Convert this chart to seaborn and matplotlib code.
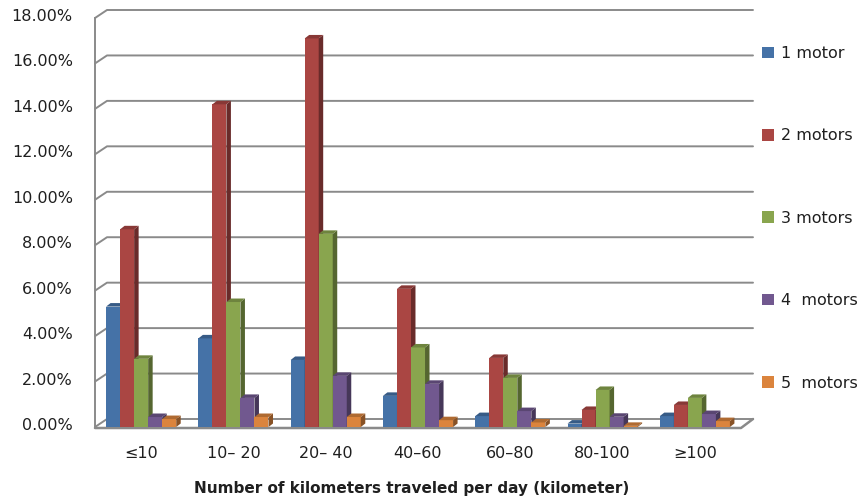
import numpy as np
import pandas as pd
import matplotlib
matplotlib.use("Agg")
import matplotlib.pyplot as plt
import seaborn as sns
from matplotlib import transforms as mtransforms
from matplotlib.patches import Polygon, Patch
from matplotlib.lines import Line2D
from matplotlib.colors import to_rgb

# ---- data (share of respondents, %) ----
categories = ["≤10", "10– 20", "20– 40", "40–60", "60–80", "80-100", "≥100"]
series = ["1 motor", "2 motors", "3 motors", "4  motors", "5  motors"]
motor1 = [5.30, 3.90, 2.95, 1.37, 0.48, 0.15, 0.48]
motor2 = [8.70, 14.20, 17.10, 6.08, 3.04, 0.75, 0.97]
motor3 = [3.00, 5.50, 8.50, 3.50, 2.16, 1.63, 1.28]
motor4 = [0.44, 1.28, 2.25, 1.90, 0.70, 0.45, 0.57]
motor5 = [0.35, 0.44, 0.44, 0.30, 0.20, 0.05, 0.26]
y_ticks = [0, 2, 4, 6, 8, 10, 12, 14, 16, 18]
x_title = "Number of kilometers traveled per day (kilometer)"

colors = ["#4572A7", "#AA4643", "#89A54E", "#71588F", "#DB843D"]

rows = []
for name, vals in zip(series, [motor1, motor2, motor3, motor4, motor5]):
    for cat, v in zip(categories, vals):
        rows.append({"range": cat, "motors": name, "share": v})
df = pd.DataFrame(rows)

sns.set_theme(style="white")
plt.rcParams["font.family"] = ["DejaVu Sans"]

W, H = 864, 501
fig = plt.figure(figsize=(W / 100, H / 100), dpi=100)
fig.patch.set_facecolor("white")
ax_left, ax_right, ax_bottom, ax_top = 95, 741, 427, 18
ax = fig.add_axes([ax_left / W, (H - ax_bottom) / H,
                   (ax_right - ax_left) / W, (ax_bottom - ax_top) / H])
ax.set_facecolor("none")

sns.barplot(data=df, x="range", y="share", hue="motors", order=categories,
            hue_order=series, palette=colors, width=0.76, saturation=1,
            legend=False, linewidth=0, edgecolor="none", ax=ax)
ax.set_xlim(-0.5, len(categories) - 0.5)
ax.set_ylim(0, 18)

grid_col = "#8a8a8a"
ident = mtransforms.IdentityTransform()
DX, DY = 12, 8          # wall depth in pixels
BX, BY = 4.5, 3.5       # bar depth in pixels


def darker(c, f):
    r, g, b = to_rgb(c)
    return (r * f, g * f, b * f)


# back wall gridlines with the short diagonal from the front axis
x0_disp = ax.transAxes.transform((0, 0))[0]
x1_disp = ax.transAxes.transform((1, 0))[0]
for t in y_ticks:
    yd = ax.transData.transform((0, t))[1]
    ln = Line2D([x0_disp, x0_disp + DX, x1_disp + DX],
                [yd, yd + DY, yd + DY], transform=ident,
                color=grid_col, lw=1.4, zorder=1, clip_on=False)
    ax.add_line(ln)

# floor front edge and right edge
y0d = ax.transData.transform((0, 0))[1]
floor = Line2D([x0_disp, x1_disp, x1_disp + DX],
               [y0d - 1, y0d - 1, y0d + DY], transform=ident,
               color=grid_col, lw=1.8, zorder=1.5, clip_on=False)
ax.add_line(floor)

# 3D side and top faces for every bar, drawn left to right
bars = sorted(ax.patches, key=lambda p: p.get_x())
for i, p in enumerate(bars):
    z = 3 + i * 0.01
    p.set_zorder(z)
    fc = p.get_facecolor()[:3]
    (xa, ya) = ax.transData.transform((p.get_x(), 0))
    (xb, yb) = ax.transData.transform((p.get_x() + p.get_width(), p.get_height()))
    side = Polygon([(xb, ya), (xb + BX, ya + BY), (xb + BX, yb + BY), (xb, yb)],
                   closed=True, transform=ident, facecolor=darker(fc, 0.62),
                   edgecolor="none", zorder=z + 0.001, clip_on=False)
    top = Polygon([(xa, yb), (xb, yb), (xb + BX, yb + BY), (xa + BX, yb + BY)],
                  closed=True, transform=ident, facecolor=darker(fc, 0.8),
                  edgecolor="none", zorder=z + 0.002, clip_on=False)
    ax.add_patch(side)
    ax.add_patch(top)

# axes styling
for s in ["top", "right", "bottom"]:
    ax.spines[s].set_visible(False)
ax.spines["left"].set_color(grid_col)
ax.spines["left"].set_linewidth(1.4)
ax.grid(False)

text_col = "#1f1f1f"
ax.set_yticks(y_ticks)
ax.set_yticklabels([f"{t:.2f}%" for t in y_ticks])
ax.tick_params(axis="y", length=0, pad=16, labelsize=11.5, labelcolor=text_col)
ax.tick_params(axis="x", length=0, pad=14, labelsize=11.5, labelcolor=text_col)
shift = mtransforms.ScaledTranslation(0, 3 / 100, fig.dpi_scale_trans)
for lab in ax.get_yticklabels():
    lab.set_transform(lab.get_transform() + shift)

ax.set_ylabel("")
ax.set_xlabel(x_title, fontsize=11, fontweight="bold", color=text_col, va="center")
ax.xaxis.set_label_coords((412 - ax_left) / (ax_right - ax_left),
                          -(488 - ax_bottom) / (ax_bottom - ax_top))

handles = [Patch(facecolor=c, edgecolor="none") for c in colors]
fig.legend(handles, series, loc="upper left",
           bbox_to_anchor=(762 / W, 1 - 46 / H), frameon=False,
           fontsize=11.5, labelspacing=4.22, handlelength=0.75,
           handleheight=0.75, handletextpad=0.45, borderpad=0,
           borderaxespad=0, labelcolor=text_col)

fig.savefig("out.png", dpi=100, facecolor="white")
